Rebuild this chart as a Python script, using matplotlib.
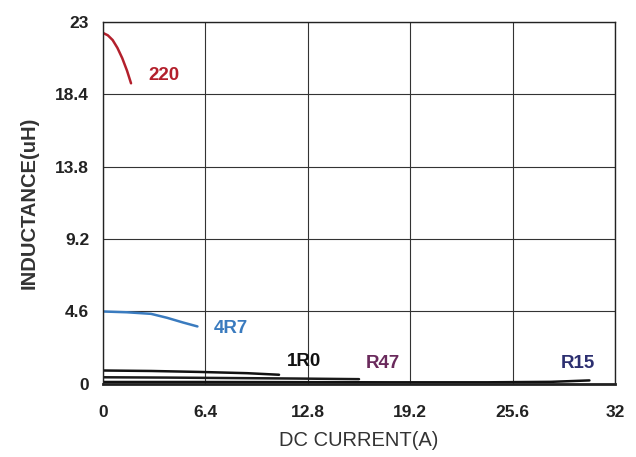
import matplotlib
matplotlib.use("Agg")
import matplotlib.pyplot as plt

plt.rcParams['font.family'] = ['Liberation Sans', 'DejaVu Sans']

x_ticks = [0, 6.4, 12.8, 19.2, 25.6, 32]
y_ticks = [0, 4.6, 9.2, 13.8, 18.4, 23]

# Curves (current A, inductance uH)
x_220 = [0, 0.3, 0.6, 0.9, 1.2, 1.5, 1.75]
y_220 = [22.3, 22.15, 21.85, 21.35, 20.7, 19.9, 19.1]

x_4r7 = [0, 1.5, 3.0, 4.0, 5.0, 5.9]
y_4r7 = [4.6, 4.55, 4.45, 4.2, 3.9, 3.65]

x_1r0 = [0, 3, 6, 9, 11.0]
y_1r0 = [0.85, 0.82, 0.76, 0.68, 0.58]

x_r47 = [0, 4, 8, 12, 16]
y_r47 = [0.42, 0.40, 0.37, 0.34, 0.30]

x_r15 = [0, 6, 12, 18, 24, 28, 30.4]
y_r15 = [0.12, 0.12, 0.11, 0.10, 0.10, 0.13, 0.22]

labels = ['220', '4R7', '1R0', 'R47', 'R15']
label_pos = [(2.85, 19.6), (6.9, 3.5), (11.5, 1.45), (16.4, 1.3), (28.6, 1.3)]
label_colors = ['#b3202c', '#3a7bbf', '#111111', '#6a2a5c', '#2c2f70']
line_colors = ['#b3202c', '#3a7bbf', '#111111', '#1a1a1a', '#111111']

fig = plt.figure(figsize=(6.36, 4.57), dpi=100)
ax = fig.add_axes([0.162, 0.16, 0.805, 0.792])

series = [(x_220, y_220), (x_4r7, y_4r7), (x_1r0, y_1r0), (x_r47, y_r47), (x_r15, y_r15)]
for (xs, ys), c in zip(series, line_colors):
    ax.plot(xs, ys, color=c, lw=1.8, solid_capstyle='round')

for lab, (lx, ly), c in zip(labels, label_pos, label_colors):
    ax.text(lx, ly, lab, color=c, fontsize=13.5, fontweight='bold', ha='left', va='center')

ax.set_xlim(0, 32)
ax.set_ylim(0, 23)
ax.set_xticks(x_ticks)
ax.set_xticklabels(['0', '6.4', '12.8', '19.2', '25.6', '32'])
ax.set_yticks(y_ticks)
ax.set_yticklabels(['0', '4.6', '9.2', '13.8', '18.4', '23'])
ax.tick_params(length=0, labelsize=12.5, colors='#222222')
ax.tick_params(axis='x', pad=15)
ax.tick_params(axis='y', pad=10)
for lab in ax.get_xticklabels() + ax.get_yticklabels():
    lab.set_fontweight('bold')
ax.grid(True, color='#333333', lw=0.8)
for s in ax.spines.values():
    s.set_color('#222222')
    s.set_linewidth(1.0)
ax.spines['bottom'].set_linewidth(2.0)

ax.set_xlabel('DC CURRENT(A)', fontsize=14.5, color='#333333', labelpad=8)
ax.set_ylabel('INDUCTANCE(uH)', fontsize=14.5, color='#333333', fontweight='bold', labelpad=12)

fig.savefig('out.png', dpi=100)
